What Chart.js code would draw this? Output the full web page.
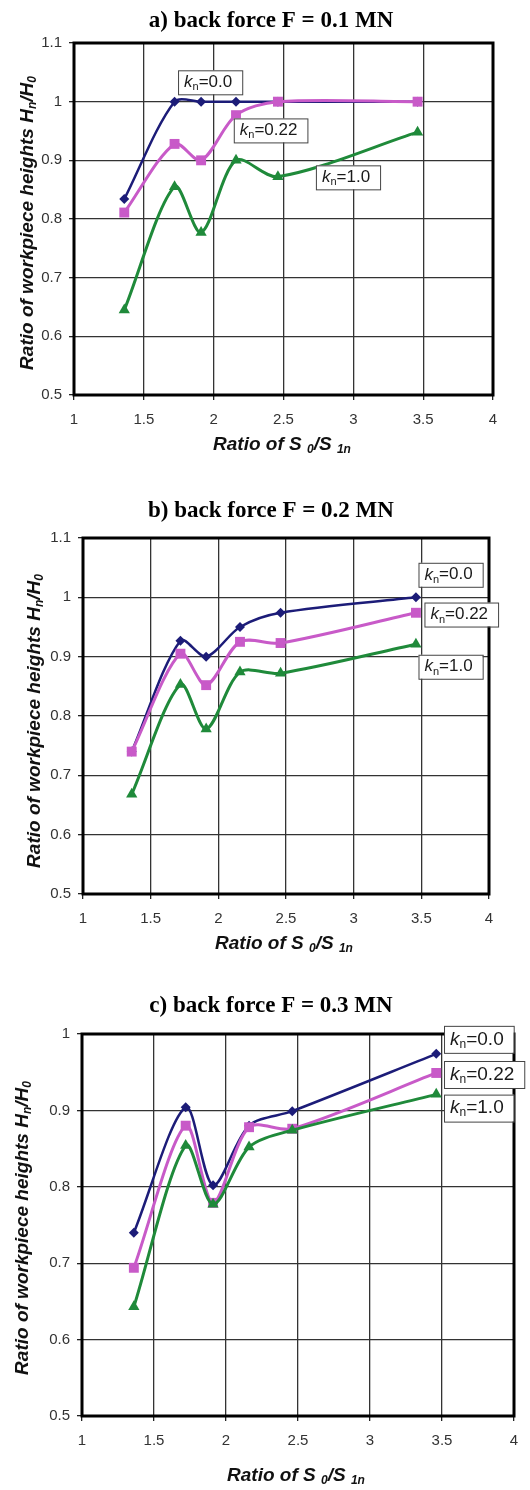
<!DOCTYPE html>
<html>
<head>
<meta charset="utf-8">
<script src="https://cdn.jsdelivr.net/npm/chart.js@4.4.1/dist/chart.umd.min.js"></script>
<style>
    html, body { margin: 0; padding: 0; background: #fff; }
    #wrap { position: relative; width: 530px; height: 1490px; }
    canvas { position: absolute; left: 0; }
</style>
</head>
<body>
<div id="wrap">
    <canvas id="chart_a" width="530" height="480" style="top:0px"></canvas>
    <canvas id="chart_b" width="530" height="480" style="top:480px"></canvas>
    <canvas id="chart_c" width="530" height="530" style="top:960px"></canvas>
</div>
<script>
// ratio S0/S1n (same stations on all three plots)
const xRatio = [1.36, 1.72, 1.91, 2.16, 2.46, 3.46];
const xTickLabels = ["1", "1.5", "2", "2.5", "3", "3.5", "4"];
const yTickLabelsAB = ["0.5", "0.6", "0.7", "0.8", "0.9", "1", "1.1"];
const yTickLabelsC = ["0.5", "0.6", "0.7", "0.8", "0.9", "1"];
const knValues = ["0.0", "0.22", "1.0"];

// a) back force F = 0.1 MN
const a_kn00 = [0.834, 1.0, 1.0, 1.0, 1.0, 1.0];
const a_kn022 = [0.811, 0.928, 0.900, 0.977, 1.0, 1.0];
const a_kn10 = [0.645, 0.855, 0.777, 0.900, 0.872, 0.948];

// b) back force F = 0.2 MN
const b_kn00 = [0.740, 0.927, 0.900, 0.950, 0.974, 1.0];
const b_kn022 = [0.740, 0.905, 0.852, 0.925, 0.923, 0.974];
const b_kn10 = [0.668, 0.853, 0.778, 0.874, 0.872, 0.921];

// c) back force F = 0.3 MN
const c_kn00 = [0.740, 0.904, 0.802, 0.880, 0.899, 0.974];
const c_kn022 = [0.694, 0.880, 0.779, 0.878, 0.876, 0.949];
const c_kn10 = [0.643, 0.854, 0.777, 0.852, 0.874, 0.921];

const SANS = '"Liberation Sans", Arial, sans-serif';
const SERIF = '"Liberation Serif", "Times New Roman", serif';

const seriesStyle = [
    {color: "#1c1c78", point: "rectRot", radius: 5, width: 2.5, order: 2},
    {color: "#c85ac8", point: "rect", radius: 7, width: 3, order: 1},
    {color: "#1f8a3a", point: "triangle", radius: 6.5, width: 3, order: 0}
];

// draws a row of text pieces (for subscripts), centred on cx
function drawRich(ctx, segs, cx, cy) {
    let total = 0;
    segs.forEach(function(s) {
        ctx.font = s.font;
        s.w = ctx.measureText(s.t).width;
        total += s.w;
    });
    let x = cx - total / 2;
    ctx.textAlign = "left";
    ctx.textBaseline = "middle";
    segs.forEach(function(s) {
        ctx.font = s.font;
        ctx.fillText(s.t, x, cy + (s.dy || 0));
        x += s.w;
    });
}

const chartDecor = {
    id: "chartDecor",
    afterDraw(chart, args, opts) {
        let ctx = chart.ctx;
        let area = chart.chartArea;
        ctx.save();
        // plot frame
        ctx.strokeStyle = "#000";
        ctx.lineWidth = 3;
        ctx.strokeRect(area.left, area.top, area.right - area.left, area.bottom - area.top);

        // title
        ctx.fillStyle = "#000";
        ctx.font = "bold 23px " + SERIF;
        ctx.textAlign = "center";
        ctx.textBaseline = "alphabetic";
        ctx.fillText(opts.title, opts.titlePos[0], opts.titlePos[1]);

        // axis titles
        let big = "italic bold 19px " + SANS;
        let sub = "italic bold 12px " + SANS;
        ctx.fillStyle = "#111";
        drawRich(ctx, [
            {t: "Ratio of S ", font: big},
            {t: "0", font: sub, dy: 5},
            {t: "/S ", font: big},
            {t: "1n", font: sub, dy: 5}
        ], opts.xTitlePos[0], opts.xTitlePos[1]);

        ctx.save();
        ctx.translate(opts.yTitlePos[0], opts.yTitlePos[1]);
        ctx.rotate(-Math.PI / 2);
        drawRich(ctx, [
            {t: "Ratio of workpiece heights H", font: big},
            {t: "n", font: sub, dy: 5},
            {t: "/H", font: big},
            {t: "0", font: sub, dy: 5}
        ], 0, 0);
        ctx.restore();

        // k_n boxes
        let fs = opts.boxFont;
        opts.boxes.forEach(function(b, i) {
            let px = chart.scales.x.getPixelForValue(b.x);
            let py = chart.scales.y.getPixelForValue(b.y);
            let segs = [
                {t: "k", font: "italic " + fs + "px " + SANS},
                {t: "n", font: Math.round(fs * 0.65) + "px " + SANS, dy: 5},
                {t: "=" + knValues[i], font: fs + "px " + SANS}
            ];
            let tw = 0;
            segs.forEach(function(s) {
                ctx.font = s.font;
                tw += ctx.measureText(s.t).width;
            });
            let w = tw + 16;
            let h = opts.boxH;
            ctx.fillStyle = "#fff";
            ctx.fillRect(px, py - h / 2, w, h);
            ctx.strokeStyle = "#444";
            ctx.lineWidth = 1;
            ctx.strokeRect(px + 0.5, py - h / 2 + 0.5, w, h);
            ctx.fillStyle = "#1a1a1a";
            drawRich(ctx, segs, px + 6 + tw / 2, py);
        });
        ctx.restore();
    }
};

function renderChart(canvasId, series, yMax, yLabels, decor) {
    let ctx = document.getElementById(canvasId).getContext("2d");
    let canvasH = ctx.canvas.height;
    let datasets = [];
    for (let s = 0; s < series.length; s++) {
        let st = seriesStyle[s];
        let pts = [];
        for (let i = 0; i < xRatio.length; i++) {
            pts.push({x: xRatio[i], y: series[s][i]});
        }
        datasets.push({
            label: "kn=" + knValues[s],
            data: pts,
            borderColor: st.color,
            backgroundColor: st.color,
            borderWidth: st.width,
            pointStyle: st.point,
            pointRadius: st.radius,
            pointBorderWidth: 0,
            tension: 0.3,
            order: st.order
        });
    }
    let area = decor.area;
    return new Chart(ctx, {
        type: "line",
        data: {datasets: datasets},
        plugins: [chartDecor],
        options: {
            responsive: false,
            animation: false,
            devicePixelRatio: 1,
            layout: {padding: {left: 0, top: area.top, right: 530 - area.right, bottom: 0}},
            plugins: {
                legend: {display: false},
                tooltip: {enabled: false},
                chartDecor: decor
            },
            scales: {
                x: {
                    type: "linear",
                    min: 1,
                    max: 4,
                    afterFit: function(scale) { scale.height = canvasH - area.bottom; },
                    afterBuildTicks: function(scale) {
                        scale.ticks = xTickLabels.map(function(l) { return {value: parseFloat(l)}; });
                    },
                    ticks: {
                        callback: function(v, idx) { return xTickLabels[idx]; },
                        color: "#333",
                        font: {family: SANS, size: 15},
                        padding: 11,
                        maxRotation: 0
                    },
                    grid: {color: "#333", lineWidth: 1.3, tickLength: 5, tickColor: "#222"},
                    border: {display: false}
                },
                y: {
                    type: "linear",
                    min: 0.5,
                    max: yMax,
                    afterFit: function(scale) { scale.width = area.left; },
                    afterBuildTicks: function(scale) {
                        scale.ticks = yLabels.map(function(l) { return {value: parseFloat(l)}; });
                    },
                    ticks: {
                        callback: function(v, idx) { return yLabels[idx]; },
                        color: "#333",
                        font: {family: SANS, size: 15},
                        padding: 7
                    },
                    grid: {color: "#333", lineWidth: 1.3, tickLength: 5, tickColor: "#222"},
                    border: {display: false}
                }
            }
        }
    });
}

renderChart("chart_a", [a_kn00, a_kn022, a_kn10], 1.1, yTickLabelsAB, {
    area: {left: 74, top: 43, right: 493, bottom: 395},
    title: "a) back force F = 0.1 MN",
    titlePos: [271, 27],
    xTitlePos: [282, 445],
    yTitlePos: [28, 223],
    boxFont: 17,
    boxH: 24,
    boxes: [{x: 1.745, y: 1.033}, {x: 2.144, y: 0.951}, {x: 2.732, y: 0.871}]
});

renderChart("chart_b", [b_kn00, b_kn022, b_kn10], 1.1, yTickLabelsAB, {
    area: {left: 83, top: 58, right: 489, bottom: 414},
    title: "b) back force F = 0.2 MN",
    titlePos: [271, 37],
    xTitlePos: [284, 464],
    yTitlePos: [35, 241],
    boxFont: 17,
    boxH: 24,
    boxes: [{x: 3.479, y: 1.038}, {x: 3.523, y: 0.971}, {x: 3.479, y: 0.883}]
});

renderChart("chart_c", [c_kn00, c_kn022, c_kn10], 1.0, yTickLabelsC, {
    area: {left: 82, top: 74, right: 514, bottom: 456},
    title: "c) back force F = 0.3 MN",
    titlePos: [271, 52],
    xTitlePos: [296, 516],
    yTitlePos: [23, 268],
    boxFont: 19,
    boxH: 27,
    boxes: [{x: 3.514, y: 0.993}, {x: 3.514, y: 0.947}, {x: 3.514, y: 0.903}]
});
</script>
</body>
</html>
